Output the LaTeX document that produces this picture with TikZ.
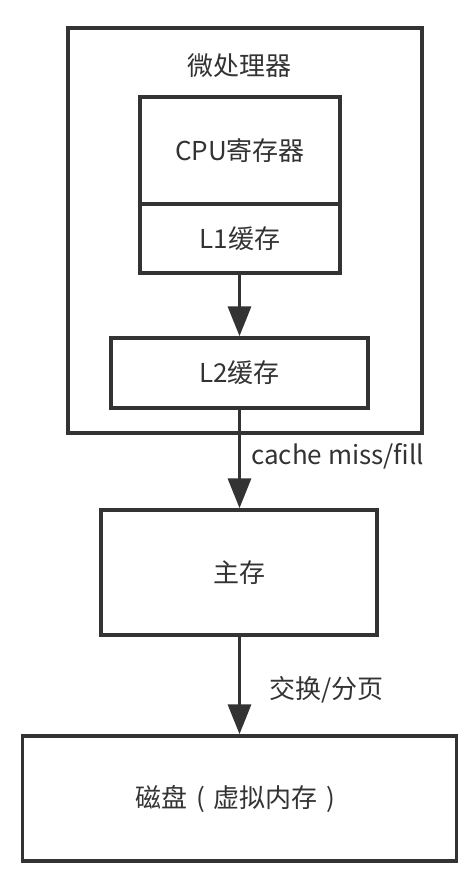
\documentclass[tikz,border=0pt]{standalone}
\usepackage{fontspec}
\setmainfont{Noto Sans CJK SC}
\usetikzlibrary{arrows.meta}
\definecolor{ink}{HTML}{333333}
\begin{document}
\begin{tikzpicture}[x=1pt,y=-1pt,
  box/.style={draw=ink, line width=3.5pt, rectangle, inner sep=0pt, text=ink, font=\fontsize{26}{30}\selectfont},
  lbl/.style={text=ink, inner sep=0pt, font=\fontsize{26}{30}\selectfont},
  link/.style={draw=ink, line width=3.5pt, -{Triangle[length=30pt,width=23pt]}}]
\useasboundingbox (0,0) rectangle (469,882);
% processor frame
\node[box, minimum width=354pt, minimum height=405pt] (cpuframe) at (245,230.5) {};
\node[lbl] (title) at (239,66) {微处理器};
% on-chip storage
\node[box, minimum width=200pt, minimum height=107pt] (reg) at (240,150.5) {CPU寄存器};
\node[box, minimum width=200pt, minimum height=69pt] (l1) at (240,238.5) {L1缓存};
\node[box, minimum width=257pt, minimum height=70pt] (l2) at (239.5,373) {L2缓存};
% memory hierarchy below the processor
\node[box, minimum width=276pt, minimum height=125pt] (mem) at (239,572.5) {主存};
\node[box, minimum width=434pt, minimum height=125pt] (disk) at (239.5,798.5)
  {磁盘\makebox[1em]{(}虚拟内存\makebox[1em]{)}};
% connectors
\draw[link] (l1.south -| 239.5,0) -- (l2.north -| 239.5,0);
\draw[link] (l2.south -| 239.5,0) -- (mem.north -| 239.5,0);
\draw[link] (mem.south -| 239.5,0) -- (disk.north -| 239.5,0);
\node[lbl, anchor=west] (missfill) at (251,456) {cache miss/fill};
\node[lbl, anchor=west] (swap) at (269,690) {交换/分页};
\end{tikzpicture}
\end{document}
